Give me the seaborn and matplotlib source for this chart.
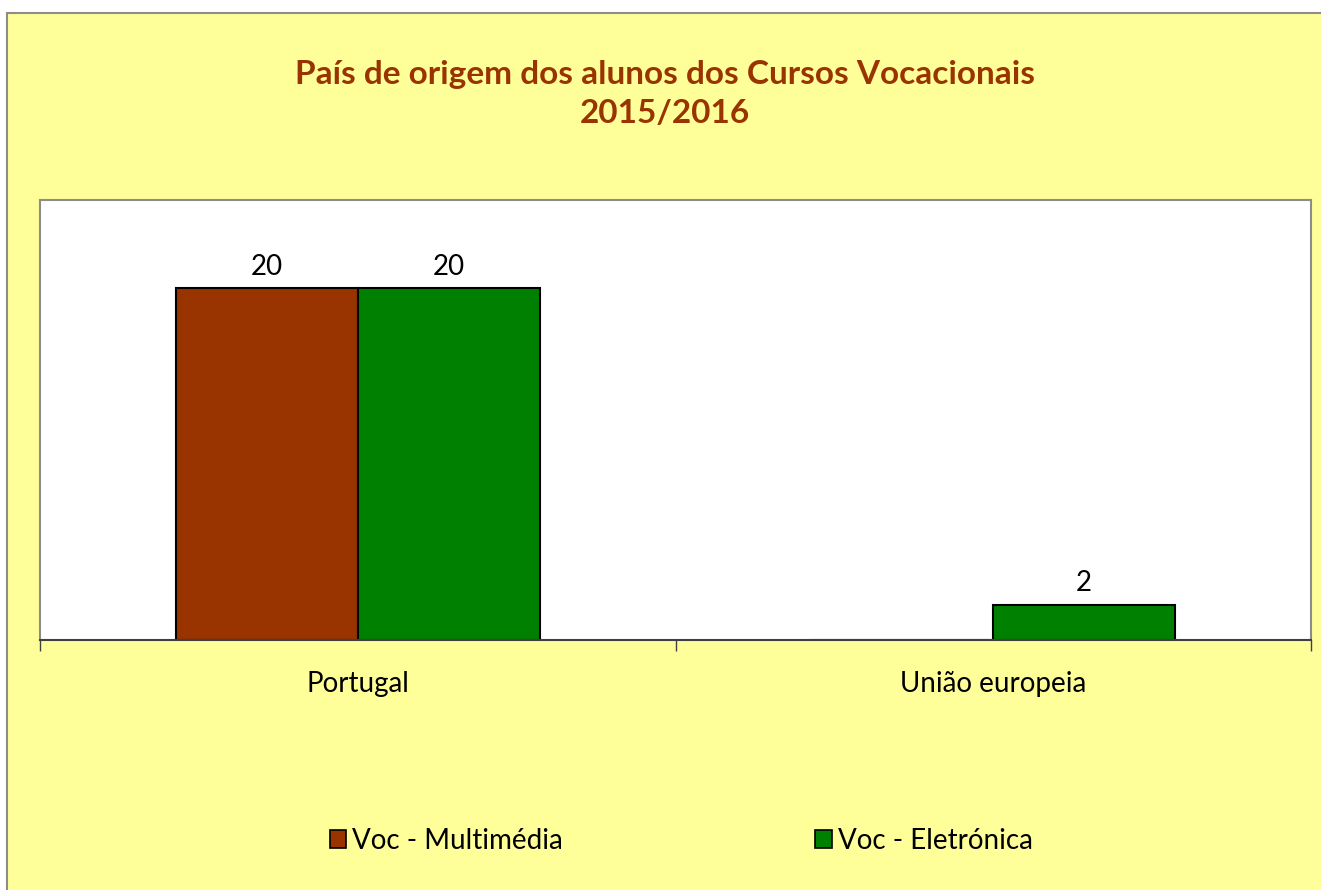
import matplotlib
matplotlib.use('Agg')
import matplotlib.pyplot as plt
import pandas as pd
import seaborn as sns
from matplotlib.patches import Rectangle

# values
categories = ['Portugal', 'União europeia']
series = ['Voc - Multimédia', 'Voc - Eletrónica']
multimedia = [20, 0]
eletronica = [20, 2]
colors = ['#993300', '#008000']

df = pd.DataFrame({
    'pais': categories * 2,
    'curso': [series[0]] * 2 + [series[1]] * 2,
    'alunos': multimedia + eletronica,
})

sns.set_style('white')
plt.rcParams['font.family'] = ['Lato', 'DejaVu Sans']
plt.rcParams['text.color'] = 'black'
plt.rcParams['xtick.color'] = 'black'

fig = plt.figure(figsize=(13.21, 8.9), dpi=100, facecolor='white')
# yellow chart area, frame only visible on top and left (runs off the figure edge elsewhere)
bg = Rectangle((7 / 1321, -0.01), 1.01, 1 - 13 / 890 + 0.01, transform=fig.transFigure,
               facecolor='#FFFF99', edgecolor='#8c8c8c', linewidth=1.5, zorder=-10)
fig.add_artist(bg)

ax = fig.add_axes([40 / 1321, 250 / 890, 1271 / 1321, 440 / 890])
ax.set_facecolor('white')

sns.barplot(data=df, x='pais', y='alunos', hue='curso', order=categories, hue_order=series,
            palette=colors, width=0.572, edgecolor='black', linewidth=1.5, saturation=1,
            ax=ax, legend=False)

for cont in ax.containers:
    labels = [f'{int(v)}' if v > 0 else '' for v in cont.datavalues]
    ax.bar_label(cont, labels=labels, padding=6, fontsize=20, color='black')

ax.set_xlim(-0.5, 1.5)
ax.set_ylim(0, 25)
ax.set_xlabel('')
ax.set_ylabel('')
ax.set_yticks([])
ax.set_xticks([-0.5, 0.5, 1.5], minor=True)
ax.tick_params(axis='x', which='minor', length=8, width=1, color='#404040', direction='out')
ax.tick_params(axis='x', which='major', length=0, labelsize=20, pad=22, labelcolor='black')
ax.xaxis.set_ticks_position('bottom')

for side in ['left', 'top', 'right']:
    ax.spines[side].set_color('#8c8c8c')
    ax.spines[side].set_linewidth(1.5)
ax.spines['bottom'].set_color('#404040')
ax.spines['bottom'].set_linewidth(1.5)

fig.text(665 / 1321, 1 - 94 / 890, 'País de origem dos alunos dos Cursos Vocacionais\n2015/2016',
         ha='center', va='center', fontsize=24, fontweight='bold', color='#993300', linespacing=1.38)

handles = [Rectangle((0, 0), 1, 1, facecolor=c, edgecolor='black', linewidth=1.2) for c in colors]
fig.legend(handles, series, loc='center', bbox_to_anchor=(681 / 1321, 1 - 841 / 890), ncol=2,
           frameon=False, fontsize=20, handlelength=0.6, handleheight=0.6, handletextpad=0.2,
           columnspacing=9.1)

fig.savefig('out.png', dpi=100, facecolor=fig.get_facecolor())
